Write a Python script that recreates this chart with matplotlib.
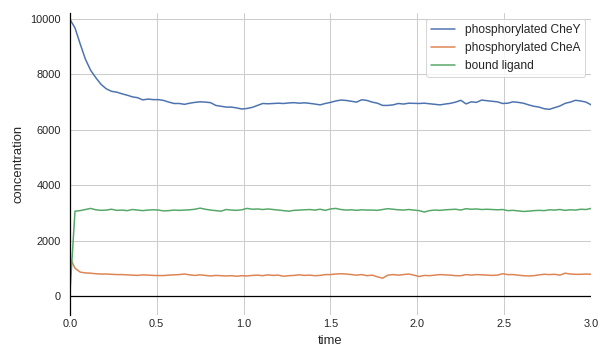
import numpy as np
import matplotlib
matplotlib.use("Agg")
import matplotlib.pyplot as plt
import seaborn as sns

time = np.round(np.arange(101) * 0.03, 2)

che_y = [10000, 9680, 9100, 8550, 8150, 7880, 7640, 7480, 7390, 7360,
         7300, 7250, 7190, 7160, 7080, 7110, 7090, 7090, 7060, 7000,
         6950, 6950, 6920, 6960, 6990, 7010, 7000, 6980, 6880, 6850,
         6820, 6820, 6790, 6750, 6770, 6810, 6880, 6950, 6940, 6950,
         6960, 6950, 6970, 6980, 6960, 6975, 6955, 6930, 6900, 6950,
         6990, 7040, 7075, 7060, 7030, 7000, 7085, 7060, 7000, 6960,
         6880, 6880, 6900, 6950, 6930, 6960, 6955, 6950, 6960, 6940,
         6920, 6900, 6930, 6955, 7000, 7065, 6935, 7010, 6990, 7075,
         7050, 7030, 7010, 6950, 6960, 7010, 6990, 6960, 6900, 6850,
         6820, 6760, 6740, 6800, 6860, 6955, 7000, 7065, 7040, 7000,
         6900]

che_a = [1400, 1000, 860, 830, 820, 800, 790, 790, 780, 770,
         770, 760, 750, 740, 760, 750, 740, 735, 735, 750,
         760, 770, 790, 760, 740, 760, 740, 720, 740, 730,
         720, 730, 710, 730, 720, 740, 750, 730, 760, 740,
         750, 710, 730, 740, 760, 740, 750, 730, 740, 770,
         770, 790, 800, 790, 770, 750, 770, 730, 750, 690,
         640, 750, 770, 750, 770, 790, 750, 700, 740, 730,
         750, 770, 760, 750, 730, 730, 770, 750, 770, 760,
         750, 740, 750, 800, 770, 770, 750, 730, 720, 730,
         760, 780, 770, 780, 750, 820, 790, 780, 780, 790,
         780]

bound_ligand = [0, 3060, 3080, 3120, 3160, 3110, 3090, 3100, 3130, 3090,
                3100, 3080, 3120, 3100, 3080, 3100, 3110, 3100, 3070, 3080,
                3100, 3090, 3100, 3110, 3130, 3170, 3130, 3100, 3080, 3060,
                3120, 3100, 3090, 3110, 3160, 3130, 3140, 3120, 3140, 3120,
                3100, 3080, 3060, 3090, 3100, 3110, 3120, 3100, 3130, 3090,
                3140, 3160, 3120, 3100, 3110, 3090, 3110, 3100, 3100, 3090,
                3120, 3150, 3130, 3110, 3100, 3120, 3100, 3080, 3030, 3080,
                3100, 3090, 3110, 3120, 3130, 3100, 3150, 3130, 3140, 3120,
                3130, 3120, 3110, 3120, 3080, 3090, 3070, 3050, 3060, 3080,
                3090, 3080, 3110, 3100, 3120, 3090, 3110, 3100, 3130, 3120,
                3160]

labels = ["phosphorylated CheY", "phosphorylated CheA", "bound ligand"]

sns.set_theme(style="whitegrid")
plt.rcParams['font.family'] = ['Liberation Sans', 'DejaVu Sans']

fig = plt.figure(figsize=(8.5, 5), dpi=72)
ax = fig.add_axes([0.114, 0.125, 0.852, 0.839])

colors = sns.color_palette("deep")
for series, lab, c in zip([che_y, che_a, bound_ligand], labels, colors):
    ax.plot(time, series, color=c, lw=1.5, label=lab)

ax.axhline(0, color='black', lw=1.25)
for s in ['top', 'right', 'bottom']:
    ax.spines[s].set_visible(False)
ax.spines['left'].set_color('black')
ax.spines['left'].set_linewidth(1.25)

ax.set_xlim(0, 3)
ax.set_ylim(-690, 10220)
ax.set_xticks(np.arange(0, 3.01, 0.5))
ax.set_yticks(np.arange(0, 10001, 2000))
ax.tick_params(axis='both', labelsize=11, length=0)
ax.tick_params(axis='y', pad=9)
ax.tick_params(axis='x', pad=4)

ax.set_xlabel("time", fontsize=13, labelpad=6)
ax.set_ylabel("concentration", fontsize=13, labelpad=6)

ax.legend(loc='upper right', fontsize=12, frameon=True)

fig.savefig("out.png", dpi=72)
